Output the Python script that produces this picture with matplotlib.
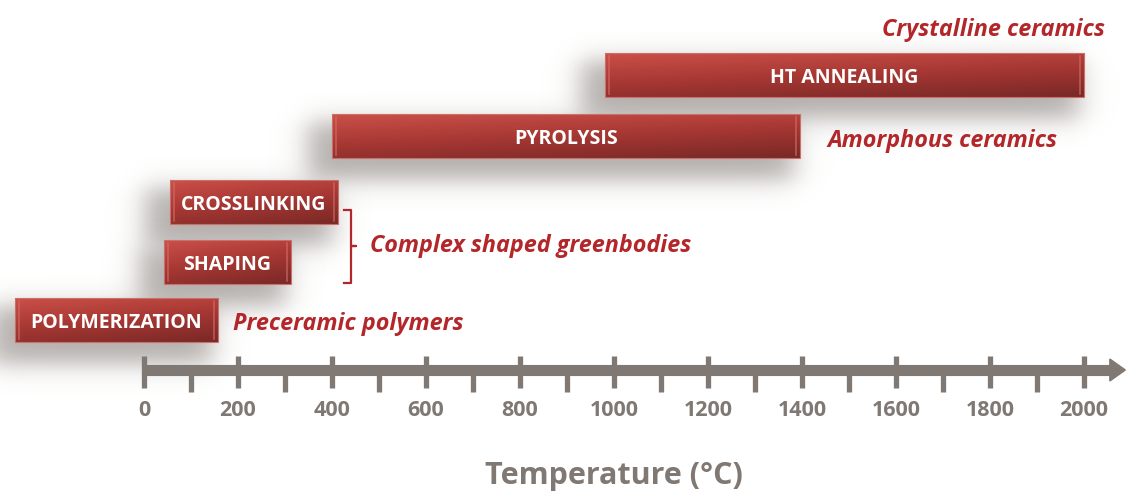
import numpy as np
import matplotlib.pyplot as plt
from matplotlib.patches import Rectangle
from matplotlib.colors import LinearSegmentedColormap

# processing stages (temperature ranges in deg C)
stages = ["HT ANNEALING", "PYROLYSIS", "CROSSLINKING", "SHAPING", "POLYMERIZATION"]
t_start = [980, 400, 55, 42, -275]
t_end = [2000, 1395, 412, 312, 157]

# product notes
notes = ["Crystalline ceramics", "Amorphous ceramics",
         "Complex shaped greenbodies", "Preceramic polymers"]

major_ticks = list(range(0, 2001, 200))
minor_ticks = list(range(100, 2000, 200))

# layout (figure drawn in pixel rows on y)
row_y = [75, 136, 202, 262, 320]
bar_h = 44
note_pos = [(2045, 30, "right"), (1455, 141, "left"), (480, 246, "left"), (190, 324, "left")]
axis_y = 370
gray = "#7f7873"
red_txt = "#b3262a"
font = "Open Sans"

fig = plt.figure(figsize=(11.27, 4.95), dpi=100)
ax = fig.add_axes([0, 0, 1, 1])
ax.set_xlim(-306.4, 2091.5)
ax.set_ylim(495, 0)
ax.axis("off")

grad_cmap = LinearSegmentedColormap.from_list("bar", ["#ca4f48", "#a63733", "#7a2927"])
px = 0.47  # pixels per degree

for name, a, b, y in zip(stages, t_start, t_end, row_y):
    # soft shadow below / left of the bar
    sx0, sx1 = a - 25 / px, b - 5 / px
    sy0, sy1 = y - bar_h / 2 + 8, y + bar_h / 2 + 22
    xs = np.linspace(sx0 - 40 / px, sx1 + 40 / px, 200)
    ys = np.linspace(sy0 - 30, sy1 + 30, 120)
    fx = 1 / (1 + np.exp(-(xs - sx0) / (8 / px))) * 1 / (1 + np.exp((xs - sx1) / (8 / px)))
    fy = 1 / (1 + np.exp(-(ys - sy0) / 7)) * 1 / (1 + np.exp((ys - sy1) / 7))
    alpha = 0.65 * np.outer(fy, fx)
    img = np.zeros((len(ys), len(xs), 4))
    img[..., :3] = np.array([0.55, 0.52, 0.50])
    img[..., 3] = alpha
    ax.imshow(img, extent=(xs[0], xs[-1], ys[-1], ys[0]), aspect="auto",
              interpolation="bilinear", zorder=1)

    # bar with diagonal gradient
    rect = Rectangle((a, y - bar_h / 2), b - a, bar_h, facecolor="none",
                     edgecolor="#c9706a", linewidth=0.8, zorder=3)
    ax.add_patch(rect)
    gx = np.linspace(0, 1, 100)
    gy = np.linspace(0, 1, 20)
    g = 0.7 * gy[:, None] + 0.3 * gx[None, :]
    im = ax.imshow(g, cmap=grad_cmap, extent=(a, b, y + bar_h / 2, y - bar_h / 2),
                   aspect="auto", interpolation="bilinear", zorder=2)
    im.set_clip_path(rect)
    # bevelled ends
    for e in (a + 4 / px, b - 4 / px):
        ax.plot([e, e], [y - bar_h / 2 + 3, y + bar_h / 2 - 3], color="#d46a62",
                lw=1.2, alpha=0.7, zorder=3)
    ax.text((a + b) / 2, y + 3, name, color="white", fontsize=14, fontweight="bold",
            family=font, ha="center", va="center", zorder=4)

for text, (x, y, ha) in zip(notes, note_pos):
    ax.text(x, y, text, color=red_txt, fontsize=16.8, fontweight="bold", style="italic",
            family=font, ha=ha, va="center", zorder=4)

# bracket for shaping + crosslinking
bx = 440
ax.plot([bx - 14, bx, bx, bx + 12, bx, bx, bx - 14],
        [210, 210, 246, 246, 246, 283, 283], color=red_txt, lw=1.6, zorder=4)

# temperature axis
ax.plot([0, 2060], [axis_y, axis_y], color=gray, lw=8, solid_capstyle="butt", zorder=2)
ax.fill([2055, 2088, 2055], [axis_y - 11, axis_y, axis_y + 11], color=gray, zorder=2)
for t in major_ticks:
    ax.plot([t, t], [356, 388], color=gray, lw=3.8, solid_capstyle="butt", zorder=2)
    ax.text(t, 411, str(t), color=gray, fontsize=15.5, fontweight="bold", family=font,
            ha="center", va="center")
for t in minor_ticks:
    ax.plot([t, t], [axis_y, 392], color=gray, lw=3.8, solid_capstyle="butt", zorder=2)

ax.text(1000, 476, "Temperature (°C)", color=gray, fontsize=22, fontweight="bold",
        family=font, ha="center", va="center")

fig.savefig("out.png", dpi=100)
